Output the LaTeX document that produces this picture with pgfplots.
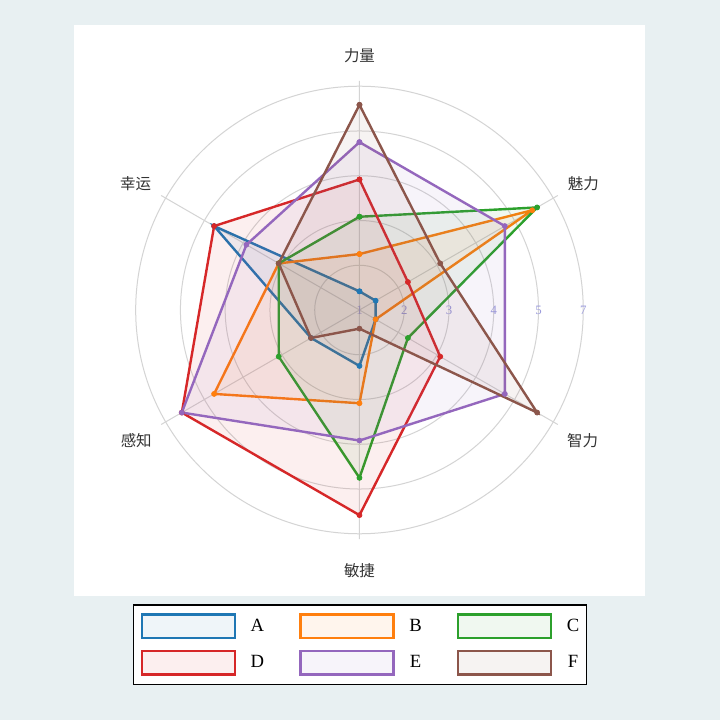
\documentclass[border=0pt]{standalone}
\usepackage{fontspec}
\setmainfont{Liberation Serif}
\newfontfamily\cjk{Noto Sans CJK SC}
\usepackage{pgfplots}
\usepackage{pgfplotstable}
\pgfplotsset{compat=1.18}
\usepgfplotslibrary{polar}

\definecolor{bgout}{RGB}{232,240,242}
\definecolor{cA}{RGB}{31,119,180}
\definecolor{cB}{RGB}{255,127,14}
\definecolor{cC}{RGB}{44,160,44}
\definecolor{cD}{RGB}{214,39,40}
\definecolor{cE}{RGB}{148,103,189}
\definecolor{cF}{RGB}{140,86,75}
\definecolor{ticklav}{RGB}{155,155,220}
\definecolor{gridgray}{RGB}{212,212,212}
\definecolor{labgray}{RGB}{51,51,51}

% angle: 90 力量, 30 魅力, 330 智力, 270 敏捷, 210 感知, 150 幸运
\pgfplotstableread{
ang A B C D E F
90  1 2    3 4 5 6
30  1 5.85 6 2 5 3
330 1 1    2 3 5 6
270 2 3    5 6 4 1
210 2 5    3 6 6 2
150 5 3    3 5 4 3
90  1 2    3 4 5 6
}\radar

\begin{document}
\begin{tikzpicture}
\fill[bgout] (0,0) rectangle (540pt,540pt);
\fill[white] (55.7pt,93.2pt) rectangle (483.75pt,521.25pt);
\begin{polaraxis}[
  at={(269.6pt,307.5pt)}, anchor=center,
  width=343.5pt, height=343.5pt, scale only axis,
  ymin=0, ymax=6.14,
  xtick={30,90,150,210,270,330}, xticklabels=\empty,
  ytick={0,1.2,2.4,3.6,4.8,6}, yticklabels={1,2,3,4,5,7},
  yticklabel style={anchor=center, text=ticklav, font=\fontsize{9.6}{10}\selectfont},
  grid=major, major grid style={gridgray, line width=0.75pt},
  axis line style={draw=none}, major tick length=0pt,
  clip=false,
  every axis plot/.append style={line width=1.8pt, mark=*, mark size=1.9pt, fill opacity=0.07,
    mark options={solid, line width=0.5pt, fill opacity=1}},
  legend image code/.code={\draw[#1, mark=none] (0pt,-8.85pt) rectangle (69.75pt,8.85pt);},
  legend columns=3,
  legend style={at={(0.501,-0.2307)}, anchor=center, draw=black, line width=1.2pt, fill=white,
    inner xsep=5.5pt, inner ysep=6.5pt, row sep=7.75pt,
    font=\fontsize{14}{16}\selectfont, nodes={inner sep=0pt},
    /tikz/every odd column/.append style={column sep=11pt},
    /tikz/every even column/.append style={column sep=26.25pt}},
]
\addplot[cA, fill=cA] table[x=ang, y expr=\thisrow{A}-0.5] {\radar};
\addplot[cB, fill=cB] table[x=ang, y expr=\thisrow{B}-0.5] {\radar};
\addplot[cC, fill=cC] table[x=ang, y expr=\thisrow{C}-0.5] {\radar};
\addplot[cD, fill=cD] table[x=ang, y expr=\thisrow{D}-0.5] {\radar};
\addplot[cE, fill=cE] table[x=ang, y expr=\thisrow{E}-0.5] {\radar};
\addplot[cF, fill=cF] table[x=ang, y expr=\thisrow{F}-0.5] {\radar};
\legend{A,B,C,D,E,F}
\begin{scope}[every node/.style={text=labgray, font=\cjk\fontsize{11.6}{13}\selectfont, anchor=center}]
\node at (axis cs:90,6.83) {力量};
\node at (axis cs:29.4,6.89) {魅力};
\node at (axis cs:329.6,6.94) {智力};
\node at (axis cs:270,7.0) {敏捷};
\node at (axis cs:210.4,6.94) {感知};
\node at (axis cs:150.6,6.89) {幸运};
\end{scope}
\end{polaraxis}
\end{tikzpicture}
\end{document}
